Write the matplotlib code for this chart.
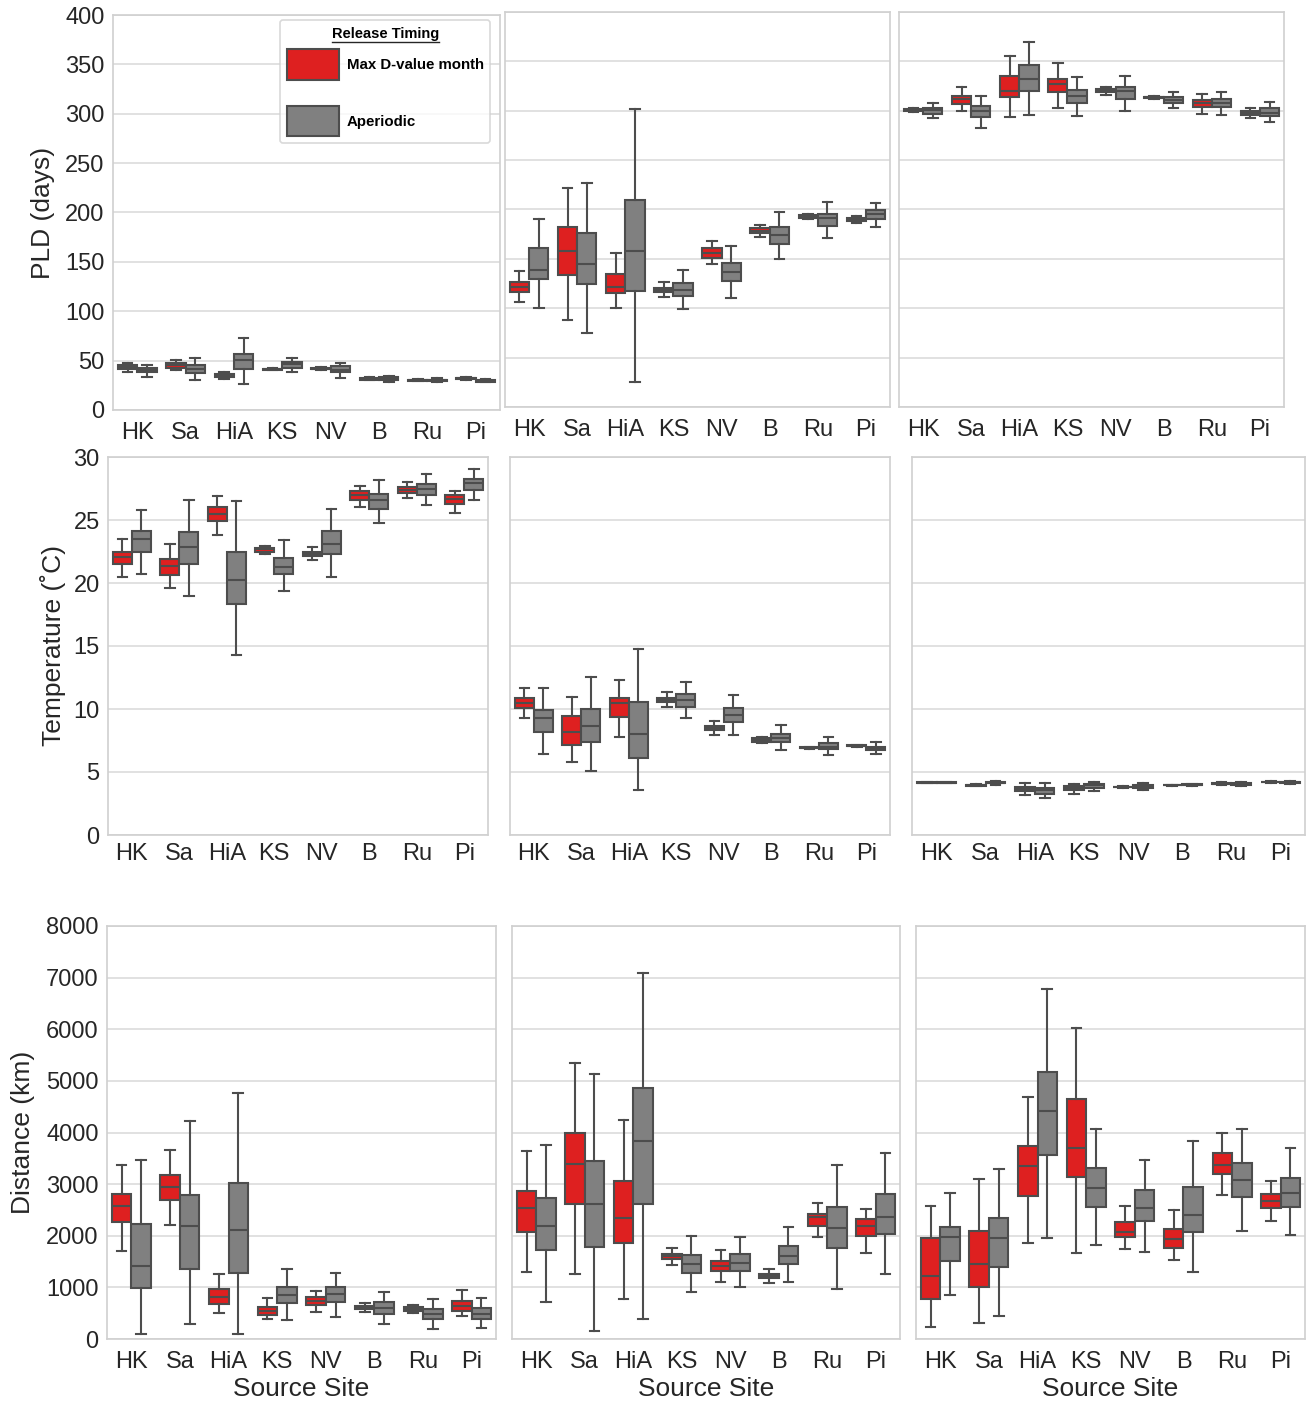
import numpy as np
import matplotlib.pyplot as plt
from matplotlib.patches import Patch
from matplotlib.lines import Line2D

plt.rcParams['font.family'] = ['Liberation Sans', 'DejaVu Sans']

sites = ['HK', 'Sa', 'HiA', 'KS', 'NV', 'B', 'Ru', 'Pi']
series = ['Max D-value month', 'Aperiodic']

# each entry: (whisker low, q1, median, q3, whisker high), one per site
pld1_max = [(38, 41.5, 44, 46, 48), (40, 43, 46, 48, 51), (31, 33, 34.5, 36, 38),
            (40.5, 40.8, 41.5, 42, 42.5), (41, 41.5, 42, 43, 44), (30, 30.7, 31.4, 32, 33),
            (29, 29.5, 30, 30.5, 31), (30.4, 31.2, 32, 32.8, 33.7)]
pld1_ape = [(33, 38, 40.5, 43, 46), (30, 37, 42, 46, 53), (26, 42, 51, 57, 72.5),
            (38.5, 43, 46.5, 49, 53), (32, 38, 41, 44.5, 48), (28.7, 30.4, 32, 33, 34.7),
            (28.5, 29.3, 30, 30.8, 32), (28, 28.8, 29.5, 30.2, 31)]
pld2_max = [(106, 116, 122, 127, 138), (88, 134, 158, 182, 222), (100, 115, 122, 135, 156),
            (111, 116, 118, 121, 127), (145, 151, 156, 161, 168), (172, 176, 178, 181, 184),
            (190, 191, 193, 194, 195), (186, 188, 189, 191, 193)]
pld2_ape = [(100, 130, 139, 161, 190), (75, 125, 145, 176, 227), (25, 117, 158, 210, 302),
            (99, 112, 118, 126, 139), (110, 128, 137, 146, 163), (150, 165, 174, 182, 197),
            (171, 183, 191, 195, 208), (182, 190, 195, 199, 207)]
pld3_max = [(299, 300, 301, 302, 303), (300, 307, 311.7, 315, 323.6), (294, 313.7, 320.5, 335, 355),
            (303, 318.5, 327.4, 332.5, 348), (316, 318.5, 320, 322, 323.6), (312.3, 313, 313.7, 314, 315),
            (297, 304, 308, 311, 317), (293, 295.6, 298, 300, 302.5)]
pld3_ape = [(293, 297, 300.7, 303, 307.6), (282.6, 294, 300, 305, 315), (296, 320.5, 332.5, 346, 370),
            (294.6, 308, 315, 321, 334), (300, 311.7, 319.5, 323.6, 335), (303, 308, 311, 313.7, 318.5),
            (296, 303.5, 308, 311.7, 318.5), (288.7, 294.6, 298, 302.5, 308.6)]

temp1_max = [(20.45, 21.5, 22.05, 22.45, 23.5), (19.6, 20.67, 21.33, 21.87, 23.06),
             (23.8, 24.9, 25.46, 26.05, 26.9), (22.3, 22.5, 22.67, 22.8, 22.9),
             (21.8, 22.13, 22.3, 22.48, 22.85), (26.07, 26.6, 26.98, 27.27, 27.66),
             (26.74, 27.13, 27.4, 27.64, 28.04), (25.54, 26.26, 26.66, 27.0, 27.3)]
temp1_ape = [(20.75, 22.45, 23.5, 24.1, 25.8), (19.0, 21.5, 22.85, 24.05, 26.6),
             (14.3, 18.35, 20.2, 22.45, 26.5), (19.35, 20.7, 21.3, 22.0, 23.4),
             (20.45, 22.3, 23.1, 24.1, 25.9), (24.74, 25.9, 26.6, 27.06, 28.2),
             (26.18, 27.0, 27.45, 27.85, 28.65), (26.58, 27.4, 27.93, 28.25, 29.05)]
temp2_max = [(9.29, 10.05, 10.44, 10.87, 11.66), (5.79, 7.18, 8.2, 9.47, 10.92),
             (7.76, 9.39, 10.44, 10.87, 12.29), (10.18, 10.52, 10.71, 10.87, 11.31),
             (7.95, 8.34, 8.5, 8.68, 9.08), (7.28, 7.42, 7.55, 7.68, 7.76),
             (6.84, 6.88, 6.92, 6.97, 7.02), (6.97, 7.03, 7.08, 7.13, 7.18)]
temp2_ape = [(6.45, 8.16, 9.26, 9.92, 11.63), (5.05, 7.37, 8.68, 10.0, 12.57),
             (3.55, 6.1, 8.03, 10.58, 14.74), (9.26, 10.18, 10.71, 11.18, 12.15),
             (7.97, 9.0, 9.55, 10.05, 11.1), (6.71, 7.37, 7.71, 8.03, 8.74),
             (6.37, 6.79, 7.02, 7.28, 7.76), (6.45, 6.71, 6.89, 7.02, 7.37)]
temp3_max = [(4.12, 4.14, 4.16, 4.18, 4.2), (3.85, 3.9, 3.95, 4.0, 4.05),
             (3.21, 3.5, 3.68, 3.81, 4.16), (3.29, 3.55, 3.73, 3.87, 4.02),
             (3.75, 3.78, 3.81, 3.84, 3.87), (3.9, 3.93, 3.95, 3.97, 4.0),
             (3.95, 4.02, 4.08, 4.12, 4.18), (4.15, 4.18, 4.21, 4.24, 4.27)]
temp3_ape = [(4.1, 4.13, 4.16, 4.19, 4.22), (4.0, 4.1, 4.16, 4.24, 4.3),
             (2.9, 3.29, 3.55, 3.73, 4.16), (3.5, 3.76, 3.95, 4.08, 4.21),
             (3.6, 3.75, 3.87, 3.95, 4.13), (3.9, 3.95, 4.0, 4.03, 4.07),
             (3.92, 3.98, 4.05, 4.1, 4.18), (4.05, 4.12, 4.18, 4.22, 4.3)]

dist1_max = [(1708, 2269, 2573, 2818, 3379), (2205, 2689, 2946, 3172, 3669), (509, 671, 807, 961, 1251),
             (381, 464, 542, 625, 799), (528, 658, 735, 807, 934), (528, 574, 613, 644, 702),
             (509, 547, 586, 613, 658), (451, 542, 644, 741, 948)]
dist1_ape = [(91, 981, 1418, 2224, 3476), (284, 1348, 2192, 2785, 4222), (97, 1282, 2108, 3023, 4772),
             (367, 690, 851, 1012, 1348), (431, 710, 870, 1000, 1282), (284, 484, 605, 710, 915),
             (188, 381, 478, 574, 774), (207, 387, 478, 594, 787)]
dist2_max = [(1304, 2080, 2545, 2874, 3649), (1260, 2610, 3391, 3986, 5343), (775, 1855, 2339, 3062, 4244),
             (1434, 1544, 1609, 1647, 1770), (1111, 1318, 1415, 1518, 1725), (1091, 1176, 1221, 1260, 1351),
             (1983, 2196, 2358, 2422, 2641), (1673, 1996, 2196, 2320, 2514)]
dist2_ape = [(711, 1725, 2190, 2738, 3760), (155, 1789, 2616, 3456, 5136), (388, 2616, 3843, 4858, 7087),
             (917, 1273, 1460, 1628, 1996), (1014, 1324, 1479, 1647, 1971), (1105, 1453, 1614, 1808, 2165),
             (969, 1770, 2145, 2564, 3372), (1254, 2029, 2358, 2804, 3599)]
dist3_max = [(227, 769, 1221, 1964, 2578), (304, 1014, 1453, 2099, 3095), (1855, 2777, 3353, 3746, 4696),
             (1661, 3146, 3708, 4651, 6033), (1744, 1971, 2080, 2273, 2578), (1531, 1770, 1938, 2132, 2500),
             (2791, 3192, 3372, 3599, 3986), (2293, 2545, 2680, 2804, 3062)]
dist3_ape = [(853, 1512, 1983, 2176, 2835), (446, 1389, 1964, 2339, 3289), (1964, 3566, 4419, 5180, 6777),
             (1822, 2564, 2920, 3320, 4070), (1692, 2287, 2545, 2888, 3469), (1304, 2080, 2403, 2952, 3843),
             (2099, 2746, 3081, 3405, 4064), (2016, 2564, 2824, 3126, 3696)]

red = '#de2020'
grey = '#808080'
edge = '#4d4d4d'

W, H = 1307, 1405
fig = plt.figure(figsize=(W / 100, H / 100), dpi=100)


def add_ax(l, t, r, b):
    return fig.add_axes([l / W, 1 - b / H, (r - l) / W, (b - t) / H])


def to_stats(rows):
    out = []
    for lo, q1, med, q3, hi in rows:
        out.append(dict(whislo=lo, q1=q1, med=med, q3=q3, whishi=hi, fliers=[]))
    return out


def draw_boxes(ax, data_max, data_ape):
    x = np.arange(len(sites))
    for data, col, off in [(data_max, red, -0.2), (data_ape, grey, 0.2)]:
        ax.bxp(to_stats(data), positions=x + off, widths=0.4, patch_artist=True,
               showfliers=False, manage_ticks=False,
               boxprops=dict(facecolor=col, edgecolor=edge, linewidth=1.5),
               medianprops=dict(color=edge, linewidth=1.5),
               whiskerprops=dict(color=edge, linewidth=1.5),
               capprops=dict(color=edge, linewidth=1.5))
    ax.set_xticks(x)
    ax.set_xticklabels(sites)
    ax.set_xlim(-0.5, len(sites) - 0.5)


def style(ax, ylim, yticks, show_y, xpad):
    ax.set_ylim(*ylim)
    ax.set_yticks(yticks)
    ax.yaxis.grid(True, color='#dcdcdc', linewidth=1.2)
    ax.xaxis.grid(False)
    ax.set_axisbelow(True)
    for s in ax.spines.values():
        s.set_color('#d0d0d0')
        s.set_linewidth(1.2)
    ax.tick_params(length=0, labelsize=17, pad=6, colors='#262626')
    ax.tick_params(axis='x', pad=xpad)
    if not show_y:
        ax.set_yticklabels([])


boxes_px = [
    [(113, 15, 500, 410), (505, 12, 890, 407), (899, 12, 1284, 407)],
    [(108, 457, 488, 835), (510, 457, 890, 835), (912, 457, 1305, 835)],
    [(107, 926, 496, 1339), (512, 926, 900, 1339), (916, 926, 1305, 1339)],
]
panel_data = [
    [(pld1_max, pld1_ape), (pld2_max, pld2_ape), (pld3_max, pld3_ape)],
    [(temp1_max, temp1_ape), (temp2_max, temp2_ape), (temp3_max, temp3_ape)],
    [(dist1_max, dist1_ape), (dist2_max, dist2_ape), (dist3_max, dist3_ape)],
]
ylims = [(0, 400), (0, 30), (0, 8000)]
yticks = [np.arange(0, 401, 50), np.arange(0, 31, 5), np.arange(0, 8001, 1000)]
ylabels = ['PLD (days)', 'Temperature (˚C)', 'Distance (km)']
ylabel_x = [-0.15, -0.11, -0.185]
xpads = [8.5, 6, 9]

axes = []
for r in range(3):
    row = []
    for c in range(3):
        ax = add_ax(*boxes_px[r][c])
        draw_boxes(ax, *panel_data[r][c])
        style(ax, ylims[r], yticks[r], c == 0, xpads[r])
        if c == 0:
            ax.set_ylabel(ylabels[r], fontsize=19, color='#262626')
            ax.yaxis.set_label_coords(ylabel_x[r], 0.5)
        if r == 2:
            ax.set_xlabel('Source Site', fontsize=19, color='#262626')
            ax.xaxis.set_label_coords(0.5, -0.093)
        row.append(ax)
    axes.append(row)

handles = [Patch(facecolor=red, edgecolor=edge, linewidth=1.5),
           Patch(facecolor=grey, edgecolor=edge, linewidth=1.5)]
leg = axes[0][0].legend(handles, series, title='Release Timing', loc='upper left',
                        bbox_to_anchor=(0.4315, 0.987), borderaxespad=0,
                        prop=dict(weight='bold', size=10.8),
                        title_fontproperties=dict(weight='bold', size=10.5),
                        handlelength=3.5, handleheight=2.75, labelspacing=1.75,
                        handletextpad=0.5, borderpad=0.45, frameon=True, fancybox=True)
leg.get_frame().set_edgecolor('#d0d0d0')
leg.get_frame().set_linewidth(1.2)
# tighter gap between the title and the first entry
leg._legend_box.sep = 6

# underline the legend title
fig.canvas.draw()
bb = leg.get_title().get_window_extent(fig.canvas.get_renderer())
fig.add_artist(Line2D([bb.x0 / W, bb.x1 / W], [(bb.y0 - 1) / H, (bb.y0 - 1) / H],
                      transform=fig.transFigure, color='#262626', linewidth=1))

fig.savefig('out.png', dpi=100)
